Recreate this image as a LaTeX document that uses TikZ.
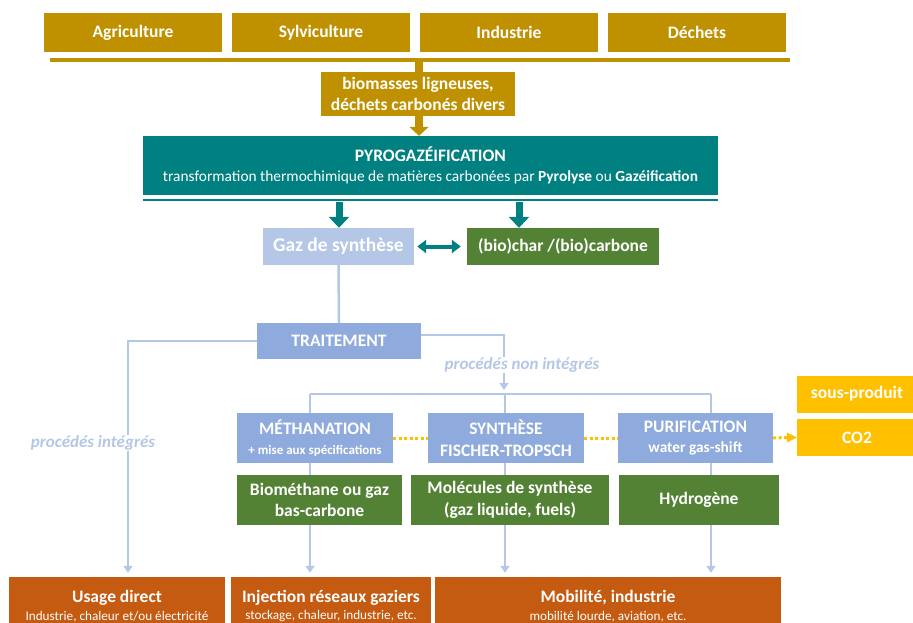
\documentclass[tikz,border=0pt]{standalone}
\usepackage{fontspec}
\setmainfont{Carlito}
\usetikzlibrary{arrows.meta}
\definecolor{gold}{HTML}{BF9000}
\definecolor{pyroteal}{HTML}{008080}
\definecolor{gazblue}{HTML}{B4C7E7}
\definecolor{procblue}{HTML}{8FAADC}
\definecolor{prodgreen}{HTML}{548235}
\definecolor{useorange}{HTML}{C55A11}
\definecolor{coyellow}{HTML}{FFC000}
\definecolor{flowblue}{HTML}{B4C7E7}
\tikzset{
  box/.style={inner sep=0pt, align=center, text=white,
    font=\bfseries\fontsize{17.5}{21.5}\selectfont},
  flow/.style={draw=flowblue, line width=2.5pt},
  flowarrow/.style={flow, shorten >=4pt, -{Triangle[width=9pt,length=7pt]}},
  fatgold/.style={draw=gold, line width=8pt, -{Triangle[width=19pt,length=9pt]}},
  fatteal/.style={draw=pyroteal, line width=7pt, -{Triangle[width=20pt,length=11pt]}},
  dotyellow/.style={draw=coyellow, line width=3pt, dash pattern=on 3pt off 2.5pt},
  proclabel/.style={fill=white, inner sep=1pt, text=flowblue,
    font=\bfseries\itshape\fontsize{17}{20}\selectfont}
}
\begin{document}
\begin{tikzpicture}[x=1pt,y=-1pt]
\useasboundingbox (0,0) rectangle (913,623);
% ressources
\foreach \nm/\cx/\txt in {agri/133/Agriculture, sylvi/321/Sylviculture,
    indus/509/Industrie, dechets/697/Déchets}
  \node[box, fill=gold, minimum width=178pt, minimum height=39pt] (\nm) at (\cx,32.5) {\txt};
\coordinate (barL) at (50,60);
\coordinate (barR) at (790,60);
\coordinate (barM) at (419,60);
\draw[gold, line width=3.5pt] (barL) -- (barR);
\node[box, fill=gold, minimum width=194pt, minimum height=44pt] (biomasse) at (418,94)
  {biomasses ligneuses,\\déchets carbonés divers};
\draw[gold, line width=8pt] (barM) -- (barM |- biomasse.north);
% pyrogazeification
\node[box, fill=pyroteal, minimum width=575pt, minimum height=59pt] (pyro) at (430.5,165.5)
  {PYROGAZÉIFICATION\\[-2pt]{\mdseries\fontsize{15.4}{20}\selectfont transformation thermochimique de
  matières carbonées par \textbf{Pyrolyse} ou \textbf{Gazéification}}};
\draw[fatgold] (biomasse.south -| barM) -- (pyro.north -| barM);
\draw[pyroteal, line width=2.5pt] ([yshift=-5pt]pyro.south west) -- ([yshift=-5pt]pyro.south east);
\node[box, fill=gazblue, minimum width=151pt, minimum height=37pt,
  font=\bfseries\fontsize{19.5}{23}\selectfont] (gaz) at (338.5,246.5) {Gaz de synthèse};
\node[box, fill=prodgreen, minimum width=192pt, minimum height=37pt] (biochar) at (563,246.5)
  {(bio)char /(bio)carbone};
\coordinate (tg) at (339,202);
\coordinate (tb) at (519,202);
\draw[fatteal] (tg) -- (tg |- gaz.north);
\draw[fatteal] (tb) -- (tb |- biochar.north);
\draw[pyroteal, line width=4pt, {Triangle[width=13pt,length=9pt]}-{Triangle[width=13pt,length=9pt]}]
  ([xshift=3pt]gaz.east) -- ([xshift=-6pt]biochar.west);
% traitement
\node[box, fill=procblue, minimum width=164pt, minimum height=36pt] (traitement) at (339,341)
  {TRAITEMENT};
\draw[flow] (gaz.south) -- (traitement.north);
\coordinate (xinteg) at (128,0);
\coordinate (bus) at (504,394);
\coordinate (xmeth) at (310,0);
\coordinate (xsyn) at (505,0);
\coordinate (xpur) at (711,0);
% procedes
\node[box, fill=procblue, minimum width=156pt, minimum height=50pt] (meth) at (315,438)
  {MÉTHANATION\\[-2pt]{\fontsize{13}{18}\selectfont + mise aux spécifications}};
\node[box, fill=procblue, minimum width=156pt, minimum height=50pt] (synth) at (506,438)
  {SYNTHÈSE\\FISCHER-TROPSCH};
\node[box, fill=procblue, minimum width=155pt, minimum height=50pt] (purif) at (695.5,438)
  {PURIFICATION\\[-1pt]{\fontsize{15.4}{19}\selectfont water gas-shift}};
\node[box, fill=coyellow, minimum width=120pt, minimum height=37pt] (sousprod) at (857,394)
  {sous-produit};
\node[box, fill=coyellow, minimum width=120pt, minimum height=37pt] (co2) at (857,437.5)
  {CO2};
\draw[dotyellow] (meth.east) -- (synth.west);
\draw[dotyellow] (synth.east) -- (purif.west);
\draw[dotyellow] (purif.east) -- ([xshift=-10pt]co2.west);
\fill[coyellow] (co2.west) -- ++(-10,-5) -- ++(0,10) -- cycle;
% produits
\node[box, fill=prodgreen, minimum width=165pt, minimum height=50pt] (biomethane) at (319.5,500)
  {Biométhane ou gaz\\bas-carbone};
\node[box, fill=prodgreen, minimum width=198pt, minimum height=50pt] (molecules) at (510,500)
  {Molécules de synthèse\\(gaz liquide, fuels)};
\node[box, fill=prodgreen, minimum width=160pt, minimum height=50pt] (hydrogene) at (699,500)
  {Hydrogène};
% usages
\node[box, fill=useorange, minimum width=216pt, minimum height=58pt] (usage) at (117,606)
  {Usage direct\\[-4pt]{\mdseries\fontsize{13.2}{17}\selectfont Industrie, chaleur et/ou électricité}};
\node[box, fill=useorange, minimum width=200pt, minimum height=58pt] (injection) at (331,606)
  {Injection réseaux gaziers\\[-4pt]{\mdseries\fontsize{13.2}{17}\selectfont stockage, chaleur, industrie, etc.}};
\node[box, fill=useorange, minimum width=346pt, minimum height=58pt] (mobilite) at (608,606)
  {Mobilité, industrie\\[-4pt]{\mdseries\fontsize{13.2}{17}\selectfont mobilité lourde, aviation, etc.}};
% liaisons
\draw[flowarrow] (traitement.west) -| (xinteg |- usage.north);
\node[proclabel] (integ) at (93,443) {procédés intégrés};
\draw[flowarrow] ([yshift=6pt]traitement.east) -| (bus);
\node[proclabel] (noninteg) at (522,365) {procédés non intégrés};
\draw[flow] (xmeth |- bus) -- (xpur |- bus);
\foreach \xl/\pr/\pd/\us in {xmeth/meth/biomethane/injection, xsyn/synth/molecules/mobilite,
    xpur/purif/hydrogene/mobilite} {
  \draw[flow] (\xl |- bus) -- (\xl |- \pr.north);
  \draw[flow] (\xl |- \pr.south) -- (\xl |- \pd.north);
  \draw[flowarrow] (\xl |- \pd.south) -- (\xl |- \us.north);
}
\end{tikzpicture}
\end{document}
